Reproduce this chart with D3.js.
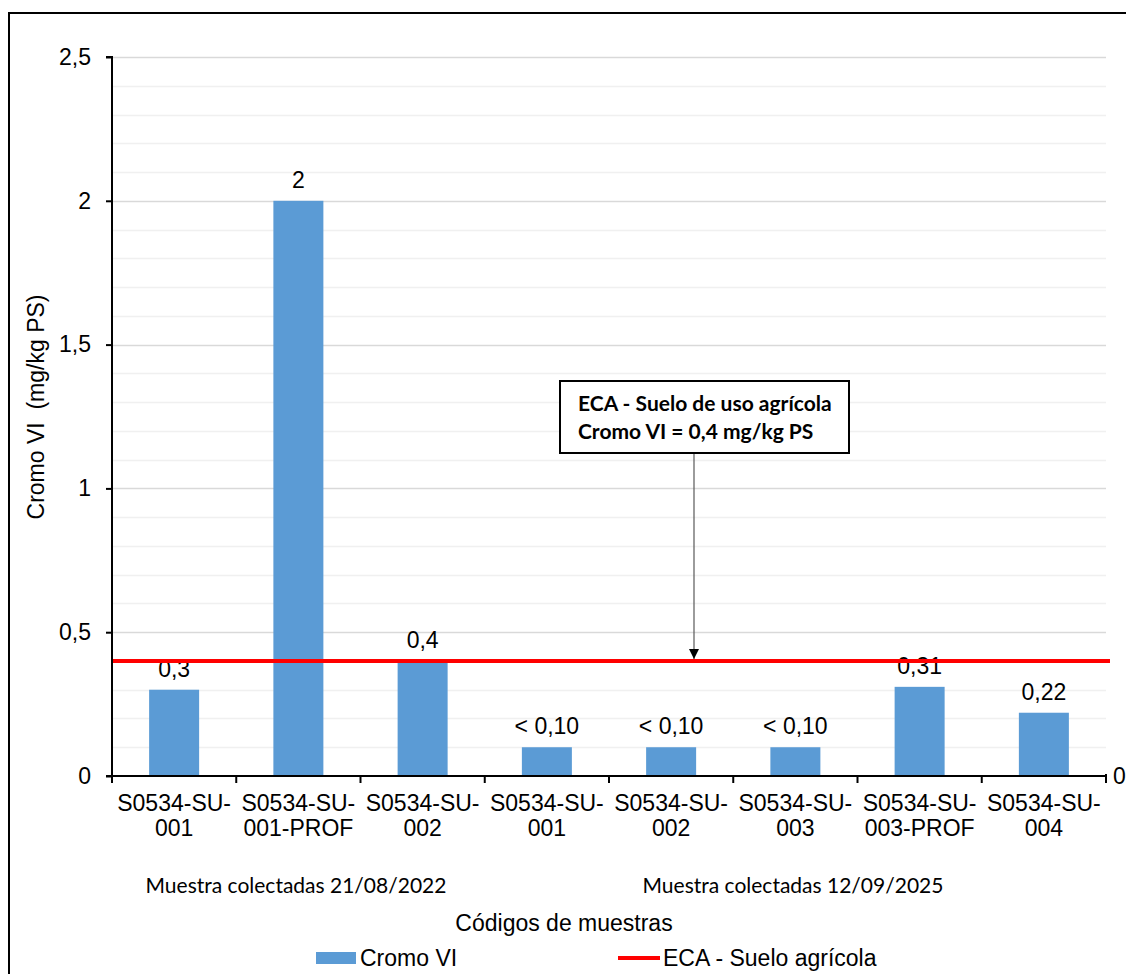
<!DOCTYPE html>
<html><head><meta charset="utf-8">
<script src="https://cdn.jsdelivr.net/npm/d3@7"></script>
<style>body{margin:0;background:#fff}svg{display:block}</style>
</head><body>
<svg id="c" width="1126" height="974"></svg>
<script>
const categories = ["S0534-SU-|001","S0534-SU-|001-PROF","S0534-SU-|002","S0534-SU-|001","S0534-SU-|002","S0534-SU-|003","S0534-SU-|003-PROF","S0534-SU-|004"];
const values = [0.3, 2, 0.4, 0.1, 0.1, 0.1, 0.31, 0.22];
const valueLabels = ["0,3","2","0,4","< 0,10","< 0,10","< 0,10","0,31","0,22"];
const eca = 0.4;
const yTicks = [0, 0.5, 1, 1.5, 2, 2.5];
const yTickLabels = ["0","0,5","1","1,5","2","2,5"];
const minorTicks = [0.1,0.2,0.3,0.4,0.6,0.7,0.8,0.9,1.1,1.2,1.3,1.4,1.6,1.7,1.8,1.9,2.1,2.2,2.3,2.4];
const groups = [{label:"Muestra colectadas 21/08/2022", from:0, to:3},{label:"Muestra colectadas 12/09/2025", from:3, to:8}];

const svg = d3.select("#c");
const L = 112, R = 1106, T = 57, B = 776;
const x = d3.scaleBand().domain(d3.range(categories.length)).range([L, R]).paddingInner(0).paddingOuter(0);
const y = d3.scaleLinear().domain([0, 2.5]).range([B, T]);
const arial = "'Liberation Sans', Arial, sans-serif";
const cal = "Lato, 'Open Sans', sans-serif";
const FS = 23;

// outer border
svg.append("rect").attr("x",9).attr("y",13).attr("width",1140).attr("height",990)
  .attr("fill","none").attr("stroke","#000").attr("stroke-width",2);

// gridlines
svg.append("g").selectAll("line").data(minorTicks).join("line")
  .attr("x1",L).attr("x2",R).attr("y1",d=>Math.round(y(d))+0.5).attr("y2",d=>Math.round(y(d))+0.5)
  .attr("stroke","#f0f0f0").attr("stroke-width",1.5);
svg.append("g").selectAll("line").data(yTicks.filter(d=>d>0)).join("line")
  .attr("x1",L).attr("x2",R).attr("y1",d=>Math.round(y(d))+0.5).attr("y2",d=>Math.round(y(d))+0.5)
  .attr("stroke","#d9d9d9").attr("stroke-width",1.5);

// bars
const bw = 50;
svg.append("g").selectAll("rect").data(values).join("rect")
  .attr("x",(d,i)=>x(i)+x.bandwidth()/2-bw/2).attr("width",bw)
  .attr("y",d=>y(d)).attr("height",d=>B-y(d)).attr("fill","#5b9bd5");

// data labels
svg.append("g").selectAll("text").data(values).join("text")
  .attr("x",(d,i)=>x(i)+x.bandwidth()/2).attr("y",d=>y(d)-13)
  .attr("text-anchor","middle").attr("font-family",arial).attr("font-size",FS).attr("fill","#000")
  .text((d,i)=>valueLabels[i]);

// ECA line
svg.append("line").attr("x1",L).attr("x2",R+4).attr("y1",y(eca)).attr("y2",y(eca))
  .attr("stroke","#ff0000").attr("stroke-width",4);

// y axis
const yAxis = d3.axisLeft(y).tickValues(yTicks).tickFormat((d,i)=>yTickLabels[i]).tickSize(6).tickPadding(15);
const gy = svg.append("g").attr("transform",`translate(${L},0)`).call(yAxis);
gy.select(".domain").attr("stroke","#000").attr("stroke-width",2).attr("d",`M-6,${T}H0V${B}H-6`);
gy.selectAll(".tick line").attr("stroke","#000").attr("stroke-width",2);
gy.selectAll(".tick text").attr("font-family",arial).attr("font-size",FS).attr("fill","#000");

// x axis
svg.append("line").attr("x1",L-6).attr("x2",R).attr("y1",B).attr("y2",B).attr("stroke","#000").attr("stroke-width",2);
const bounds = d3.range(categories.length+1).map(i=> i<categories.length ? x(i) : R);
svg.append("g").selectAll("line").data(bounds).join("line")
  .attr("x1",d=>d).attr("x2",d=>d).attr("y1",B).attr("y2",B+7).attr("stroke","#000").attr("stroke-width",2);
// right-side tick & secondary label
svg.append("line").attr("x1",R).attr("x2",R).attr("y1",B-2).attr("y2",B+7).attr("stroke","#000").attr("stroke-width",2);
svg.append("text").attr("x",R+7).attr("y",B+8).attr("font-family",arial).attr("font-size",FS).text("0");

// category labels
const cl = svg.append("g").selectAll("text").data(categories).join("text")
  .attr("x",(d,i)=>x(i)+x.bandwidth()/2).attr("y",B+35)
  .attr("text-anchor","middle").attr("font-family",arial).attr("font-size",FS).attr("fill","#000");
cl.each(function(d){
  const parts = d.split("|");
  const t = d3.select(this);
  parts.forEach((p,k)=>t.append("tspan").attr("x",t.attr("x")).attr("dy",k===0?0:25).text(p));
});

// group labels
svg.append("g").selectAll("text").data(groups).join("text")
  .attr("x",(d,i)=> i===0 ? 296 : 793).attr("y",893)
  .attr("text-anchor","middle").attr("font-family",cal).attr("font-size",21).attr("fill","#000")
  .text(d=>d.label);

// axis titles
svg.append("text").attr("x",564).attr("y",931).attr("text-anchor","middle")
  .attr("font-family",arial).attr("font-size",FS).text("Códigos de muestras");
svg.append("text").attr("transform",`translate(44,${407}) rotate(-90)`).attr("text-anchor","middle")
  .attr("font-family",arial).attr("font-size",FS).attr("xml:space","preserve").text("Cromo VI  (mg/kg PS)");

// annotation
svg.append("rect").attr("x",560).attr("y",381).attr("width",289).attr("height",72)
  .attr("fill","#fff").attr("stroke","#000").attr("stroke-width",2);
svg.append("text").attr("x",578).attr("y",411).attr("font-family",cal).attr("font-weight","bold").attr("font-size",21).text("ECA - Suelo de uso agrícola");
svg.append("text").attr("x",578).attr("y",439).attr("font-family",cal).attr("font-weight","bold").attr("font-size",21).text("Cromo VI = 0,4 mg/kg PS");
svg.append("defs").append("marker").attr("id","ah").attr("viewBox","0 0 10 10").attr("refX",10).attr("refY",5)
  .attr("markerWidth",10).attr("markerHeight",10).attr("markerUnits","userSpaceOnUse").attr("orient","auto")
  .append("path").attr("d","M0,0L10,5L0,10Z").attr("fill","#000");
svg.append("line").attr("x1",694).attr("x2",694).attr("y1",454).attr("y2",y(eca)-2)
  .attr("stroke","#595959").attr("stroke-width",1.2).attr("marker-end","url(#ah)");

// legend
svg.append("rect").attr("x",316).attr("y",952).attr("width",40).attr("height",12).attr("fill","#5b9bd5");
svg.append("text").attr("x",360).attr("y",966).attr("font-family",arial).attr("font-size",FS).text("Cromo VI");
svg.append("line").attr("x1",618).attr("x2",660).attr("y1",958).attr("y2",958).attr("stroke","#ff0000").attr("stroke-width",4);
svg.append("text").attr("x",663).attr("y",966).attr("font-family",arial).attr("font-size",FS).text("ECA - Suelo agrícola");
</script>
</body></html>
